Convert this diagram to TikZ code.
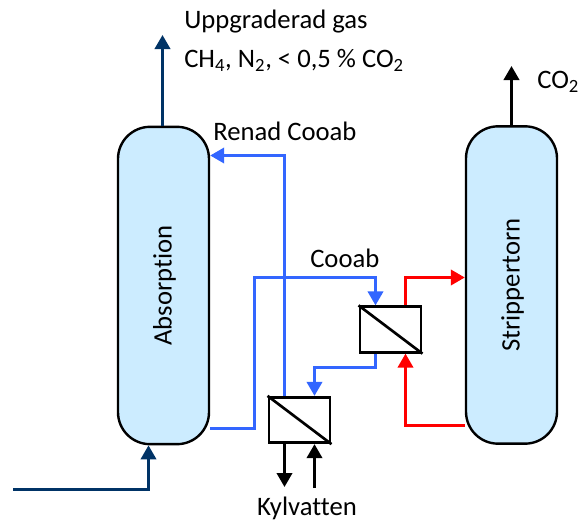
\documentclass[tikz,border=0pt]{standalone}
\usepackage{fontspec}
\setmainfont[Ligatures=NoCommon]{Carlito}
\usetikzlibrary{arrows.meta}
\definecolor{towerfill}{HTML}{CCECFF}
\definecolor{cooabblue}{HTML}{3366FF}
\definecolor{gasblue}{HTML}{003366}
\tikzset{
  tower/.style={draw=black,line width=1.8pt,fill=towerfill,rectangle,rounded corners=24pt,minimum width=68.25pt,minimum height=238pt,inner sep=0pt},
  exchanger/.style={draw=black,line width=2.2pt,fill=white,rectangle,minimum width=45.75pt,minimum height=34pt,inner sep=0pt},
  flow/.style={line width=2.1pt,-{Triangle[length=10.5pt,width=11.5pt]}},
  label/.style={inner sep=0pt,font=\fontsize{20}{24}\selectfont},
}
\begin{document}
\begin{tikzpicture}[x=0.75pt,y=0.75pt,yscale=-1,xscale=1]
\useasboundingbox (0,0) rectangle (578,521);

%Towers
\node [tower] (absorption) at (163.5,285.5) {\hspace{1.5pt}\rotatebox{90}{\fontsize{20}{24}\selectfont Absorption}};
\node [tower] (strippertorn) at (511.5,285) {\hspace{1.5pt}\rotatebox{90}{\fontsize{20}{24}\selectfont Strippertorn}};

%Free ends and corners
\coordinate (gastop) at (162.5,35);
\coordinate (gasstart) at (13,489.5);
\coordinate (gasturn) at (148.5,489.5);
\coordinate (cotop) at (511.5,66);
\coordinate (renadturn) at (284.5,155.5);
\coordinate (richstart) at (254.5,428.5);
\coordinate (richturn) at (254.5,277.5);
\coordinate (leanturn) at (375.5,367.5);
\coordinate (leanturnb) at (314.5,367.5);
\coordinate (hotback) at (405.5,425.5);
\coordinate (hotout) at (405.5,277.5);
\coordinate (kylut) at (284.5,487);
\coordinate (kylin) at (314.5,488);

%Heat exchangers
\node [exchanger] (hxup) at (390.5,329.5) {};
\node [exchanger] (hxlow) at (299.5,420) {};
\draw [line width=2pt] (hxup.north west) -- (hxup.south east);
\draw [line width=2pt] (hxlow.north west) -- (hxlow.south east);

%Gas lines
\draw [flow,color=gasblue] (absorption.north -| gastop) -- (gastop);
\draw [flow,color=gasblue] (gasstart) -- (gasturn) -- (absorption.south -| gasturn);
\draw [flow,color=black] (strippertorn.north -| cotop) -- (cotop);

%Cooab lines
\draw [flow,color=cooabblue] (hxlow.north -| renadturn) -- (renadturn) -- (absorption.east |- renadturn);
\draw [flow,color=cooabblue] (absorption.east |- richstart) -- (richstart) -- (richturn) -- (richturn -| leanturn) -- (hxup.north -| leanturn);
\draw [flow,color=cooabblue] (hxup.south -| leanturn) -- (leanturn) -- (leanturnb) -- (hxlow.north -| leanturnb);

%Hot lines
\draw [flow,color=red] (strippertorn.west |- hotback) -- (hotback) -- (hxup.south -| hotback);
\draw [flow,color=red] (hxup.north -| hotout) -- (hotout) -- (strippertorn.west |- hotout);

%Cooling water
\draw [flow,color=black] (hxlow.south -| kylut) -- (kylut);
\draw [flow,color=black] (kylin) -- (hxlow.south -| kylin);

% Text Node
\node [label,anchor=west] (uppgraderad) at (184,22) {Uppgraderad gas};
% Text Node
\node [label,anchor=base west] (gasmix) at (184,67) {CH\textsubscript{4}, N\textsubscript{2}, < 0,5 \% CO\textsubscript{2}};
% Text Node
\node [label,anchor=base west] (cotext) at (537,88) {CO\textsubscript{2}};
% Text Node
\node [label,anchor=west] (renadtext) at (213,131) {Renad Cooab};
% Text Node
\node [label,anchor=west] (cooabtext) at (310,258) {Cooab};
% Text Node
\node [label] (kylvatten) at (307,508) {Kylvatten};
\end{tikzpicture}
\end{document}
